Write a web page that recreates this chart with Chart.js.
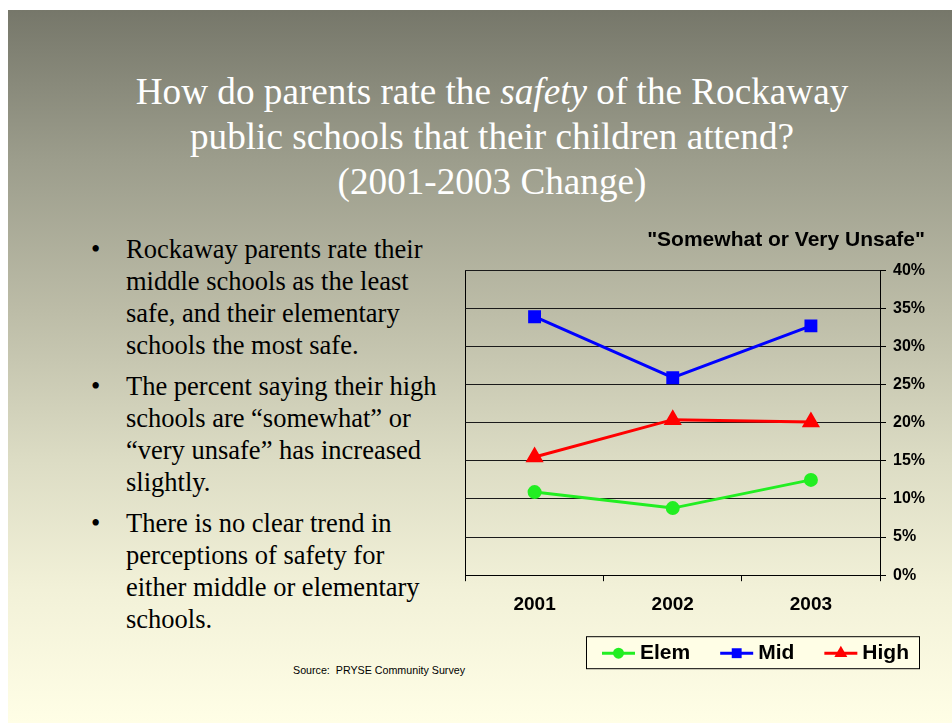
<!DOCTYPE html>
<html>
<head>
<meta charset="utf-8">
<script src="https://cdn.jsdelivr.net/npm/chart.js@4.4.1/dist/chart.umd.min.js"></script>
<style>
    html, body { margin: 0; padding: 0; background: #fff; }
    body { width: 952px; height: 723px; position: relative; overflow: hidden; }
    .slide {
        position: absolute; left: 8px; top: 10px; width: 944px; height: 713px;
        background: linear-gradient(to bottom, #76776a 0px, #9c9d8c 150px, #bcbca7 300px, #dcdcc4 450px, #f2f1d8 580px, #fffee6 713px);
    }
    .title {
        position: absolute; left: 0; top: 59px; width: 968px; text-align: center;
        font-family: "Liberation Serif", "Times New Roman", serif; font-size: 37.2px; line-height: 45px; color: #fff;
    }
    ul.bullets {
        position: absolute; left: 83px; top: 223px; width: 350px; margin: 0; padding: 0; list-style: none;
        font-family: "Liberation Serif", "Times New Roman", serif; font-size: 26.5px; line-height: 32px; color: #000;
    }
    ul.bullets li { position: relative; padding-left: 35px; margin-bottom: 9px; }
    ul.bullets li::before { content: "\2022"; position: absolute; left: 0; top: 0; }
    .source {
        position: absolute; left: 285px; top: 654px;
        font-family: "Liberation Sans", Arial, sans-serif; font-size: 10.7px; color: #000;
    }
    #wrap { position: absolute; left: 455px; top: 220px; width: 485px; height: 460px; }
</style>
</head>
<body>
<div class="slide">
    <div class="title">How do parents rate the <i>safety</i> of the Rockaway<br>public schools that their children attend?<br>(2001-2003 Change)</div>
    <ul class="bullets">
        <li>Rockaway parents rate their middle schools as the least safe, and their elementary schools the most safe.</li>
        <li>The percent saying their high schools are “somewhat” or “very unsafe” has increased slightly.</li>
        <li>There is no clear trend in perceptions of safety for either middle or elementary schools.</li>
    </ul>
    <div class="source">Source:&nbsp; PRYSE Community Survey</div>
</div>
<div id="wrap"><canvas id="chart" width="485" height="460"></canvas></div>

<script>
const years = ['2001', '2002', '2003']
const elem = [10.9, 8.8, 12.5]
const mid = [33.9, 25.9, 32.7]
const high = [15.5, 20.4, 20.1]
const yTicks = [0, 5, 10, 15, 20, 25, 30, 35, 40]

// legend drawn as line + marker inside a framed box, like the original slide
const boxLegend = {
    id: 'boxLegend',
    afterDraw(chart) {
        const ctx = chart.ctx
        const area = chart.chartArea
        const right = area.right + 39
        const top = area.bottom + 61
        const w = 333, h = 32
        const left = right - w
        ctx.save()
        ctx.fillStyle = '#fffee6'
        ctx.strokeStyle = '#000'
        ctx.lineWidth = 1
        ctx.fillRect(left, top, w, h)
        ctx.strokeRect(left + 0.5, top + 0.5, w, h)
        ctx.font = 'bold 21px "Liberation Sans", Arial, sans-serif'
        ctx.textBaseline = 'middle'
        let x = left + 16
        const cy = top + h / 2 + 1
        chart.data.datasets.forEach(ds => {
            ctx.strokeStyle = ds.borderColor
            ctx.lineWidth = 3
            ctx.beginPath()
            ctx.moveTo(x, cy)
            ctx.lineTo(x + 33, cy)
            ctx.stroke()
            ctx.fillStyle = ds.backgroundColor
            Chart.helpers.drawPoint(ctx, { pointStyle: ds.pointStyle, radius: ds.pointRadius, borderWidth: 0 }, x + 16.5, cy)
            ctx.fillStyle = '#000'
            ctx.fillText(ds.label, x + 38, cy)
            x += 38 + ctx.measureText(ds.label).width + 30
        })
        ctx.restore()
    }
}

new Chart(document.getElementById('chart'), {
    type: 'line',
    data: {
        labels: years,
        datasets: [
            { label: 'Elem', data: elem, borderColor: '#22ee22', backgroundColor: '#22ee22', borderWidth: 3, pointStyle: 'circle', pointRadius: 5.5, pointHoverRadius: 5.5 },
            { label: 'Mid', data: mid, borderColor: '#0000ff', backgroundColor: '#0000ff', borderWidth: 3, pointStyle: 'rect', pointRadius: 7, pointHoverRadius: 7 },
            { label: 'High', data: high, borderColor: '#ff0000', backgroundColor: '#ff0000', borderWidth: 3, pointStyle: 'triangle', pointRadius: 7.5, pointHoverRadius: 7.5 }
        ]
    },
    options: {
        responsive: false,
        animation: false,
        layout: { padding: { left: 10, right: 15, top: 0, bottom: 52 } },
        plugins: {
            legend: { display: false },
            tooltip: { enabled: false },
            title: {
                display: true,
                text: '"Somewhat or Very Unsafe"',
                align: 'end',
                color: '#000',
                font: { family: '"Liberation Sans", Arial, sans-serif', size: 21, weight: 'bold' },
                padding: { top: 8, bottom: 17 }
            }
        },
        scales: {
            x: {
                offset: true,
                border: { color: '#000', width: 1 },
                grid: {
                    offset: true,
                    color: c => c.index === 0 ? '#000' : 'rgba(0,0,0,0)',
                    tickColor: '#000',
                    tickLength: 6
                },
                ticks: {
                    color: '#000', padding: 12,
                    font: { family: '"Liberation Sans", Arial, sans-serif', size: 19, weight: 'bold' }
                }
            },
            y: {
                position: 'right',
                min: 0, max: 40,
                afterBuildTicks: axis => { axis.ticks = yTicks.map(v => ({ value: v })) },
                afterFit: axis => { axis.width = 45 },
                border: { color: '#000', width: 1 },
                grid: { color: '#1a1a1a', tickColor: '#000', tickLength: 6, lineWidth: 1 },
                ticks: {
                    color: '#000', padding: 7,
                    callback: v => v + '%',
                    font: { family: '"Liberation Sans", Arial, sans-serif', size: 16, weight: 'bold' }
                }
            }
        }
    },
    plugins: [boxLegend]
})
</script>
</body>
</html>
